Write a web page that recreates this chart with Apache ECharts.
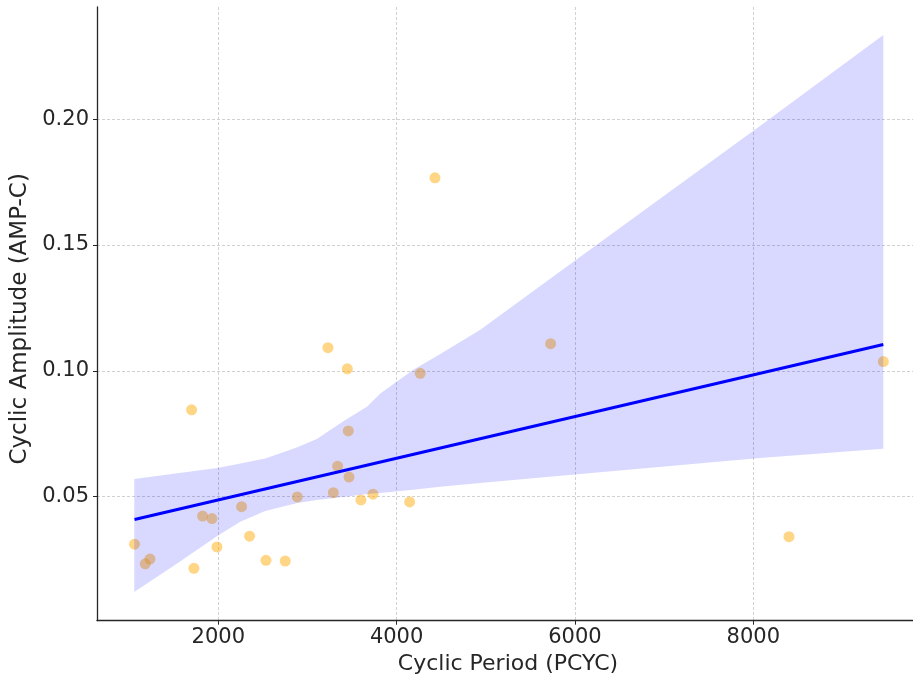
<!DOCTYPE html>
<html><head><meta charset="utf-8">
<script src="https://cdn.jsdelivr.net/npm/echarts@6/dist/echarts.min.js"></script>
<style>html,body{margin:0;padding:0;background:#fff}#c{width:913px;height:682px}</style>
</head><body><div id="c"></div>
<script>
// Scatter data: Cyclic Period (PCYC) vs Cyclic Amplitude (AMP-C)
const periods = [1061, 1181, 1234, 1701, 1727, 1824, 1929, 1985, 2261, 2351, 2535, 2751, 2886, 3290,
  3338, 3466, 3458, 3600, 3735, 4146, 3230, 3447, 4265, 4430, 5727, 8400, 9458];
const amplitudes = [0.0311, 0.0233, 0.0252, 0.0845, 0.0215, 0.0423, 0.0413, 0.0300, 0.0460, 0.0343, 0.0247, 0.0244, 0.0499, 0.0516,
  0.0621, 0.0578, 0.0761, 0.0487, 0.0510, 0.0479, 0.1092, 0.1008, 0.0990, 0.1767, 0.1108, 0.0341, 0.1037];

// Confidence band
const bandX = [1058, 1518, 1989, 2247, 2527, 2886, 3110, 3402, 3671, 3817, 4187, 4490, 4938, 6060, 8078, 9458];
const bandUpper = [0.0570, 0.0592, 0.0614, 0.0632, 0.0652, 0.0696, 0.0730, 0.0800, 0.0858, 0.0910, 0.1004, 0.1067, 0.1163, 0.1453, 0.1974, 0.2335];
const bandLower = [0.0121, 0.0229, 0.0344, 0.0400, 0.0443, 0.0475, 0.0487, 0.0499, 0.0511, 0.0515, 0.0527, 0.0539, 0.0554, 0.0590, 0.0654, 0.0690];

const xTicks = [2000, 4000, 6000, 8000];
const yTicks = [0.05, 0.10, 0.15, 0.20];

const xLabel = 'Cyclic Period (PCYC)';
const yLabel = 'Cyclic Amplitude (AMP-C)';

// Ordinary least squares fit of the scatter data
const n = periods.length;
const mx = periods.reduce((a, b) => a + b, 0) / n;
const my = amplitudes.reduce((a, b) => a + b, 0) / n;
let sxy = 0, sxx = 0;
for (let i = 0; i < n; i++) { sxy += (periods[i] - mx) * (amplitudes[i] - my); sxx += (periods[i] - mx) ** 2; }
const slope = sxy / sxx, intercept = my - slope * mx;
const xMin = Math.min(...periods), xMax = Math.max(...periods);
const fitLine = [[xMin, intercept + slope * xMin], [xMax, intercept + slope * xMax]];

const textColor = '#262626';
const axisColor = '#262626';
const gridLine = { show: true, lineStyle: { color: '#cccccc', width: 0.9, type: [3, 2] } };

const chart = echarts.init(document.getElementById('c'), null, { renderer: 'canvas' });
chart.setOption({
  animation: false,
  backgroundColor: '#ffffff',
  textStyle: { fontFamily: 'DejaVu Sans' },
  grid: { left: 97, right: 0, top: 7, bottom: 61.3, containLabel: false },
  xAxis: {
    type: 'value', min: 640, max: 9791,
    name: xLabel, nameLocation: 'middle', nameGap: 33,
    nameTextStyle: { fontSize: 22, color: textColor, fontFamily: 'DejaVu Sans', padding: [0, 0, 0, 6] },
    axisLine: { show: true, onZero: false, lineStyle: { color: axisColor, width: 1.3 } },
    axisTick: { show: true, customValues: xTicks, length: 4, lineStyle: { color: axisColor, width: 1 } },
    axisLabel: { customValues: xTicks, fontSize: 21, color: textColor, margin: 6, formatter: v => String(v) },
    splitLine: gridLine
  },
  yAxis: {
    type: 'value', min: 0.0007, max: 0.2446,
    name: yLabel, nameLocation: 'middle', nameGap: 63, nameRotate: 90,
    nameTextStyle: { fontSize: 23, color: textColor, fontFamily: 'DejaVu Sans', padding: [0, 10, 0, 0] },
    axisLine: { show: true, onZero: false, lineStyle: { color: axisColor, width: 1.3 } },
    axisTick: { show: true, customValues: yTicks, length: 4, lineStyle: { color: axisColor, width: 1 } },
    axisLabel: { customValues: yTicks, fontSize: 21, color: textColor, margin: 8, formatter: v => v.toFixed(2) },
    splitLine: gridLine
  },
  series: [
    {
      type: 'scatter', z: 2,
      data: periods.map((p, i) => [p, amplitudes[i]]),
      symbolSize: 11,
      itemStyle: { color: 'rgba(255,170,10,0.62)' },
      silent: true
    },
    {
      type: 'custom', z: 3, silent: true, clip: true,
      data: [[bandX[0], bandUpper[0]]],
      renderItem: function (params, api) {
        const pts = [];
        for (let i = 0; i < bandX.length; i++) pts.push(api.coord([bandX[i], bandUpper[i]]));
        for (let i = bandX.length - 1; i >= 0; i--) pts.push(api.coord([bandX[i], bandLower[i]]));
        return { type: 'polygon', shape: { points: pts }, style: { fill: 'rgba(0,0,255,0.15)', stroke: null } };
      }
    },
    {
      type: 'line', z: 4, silent: true,
      data: fitLine, showSymbol: false, symbol: 'none',
      lineStyle: { color: '#0000ff', width: 3 }
    }
  ]
});
</script>
</body></html>
